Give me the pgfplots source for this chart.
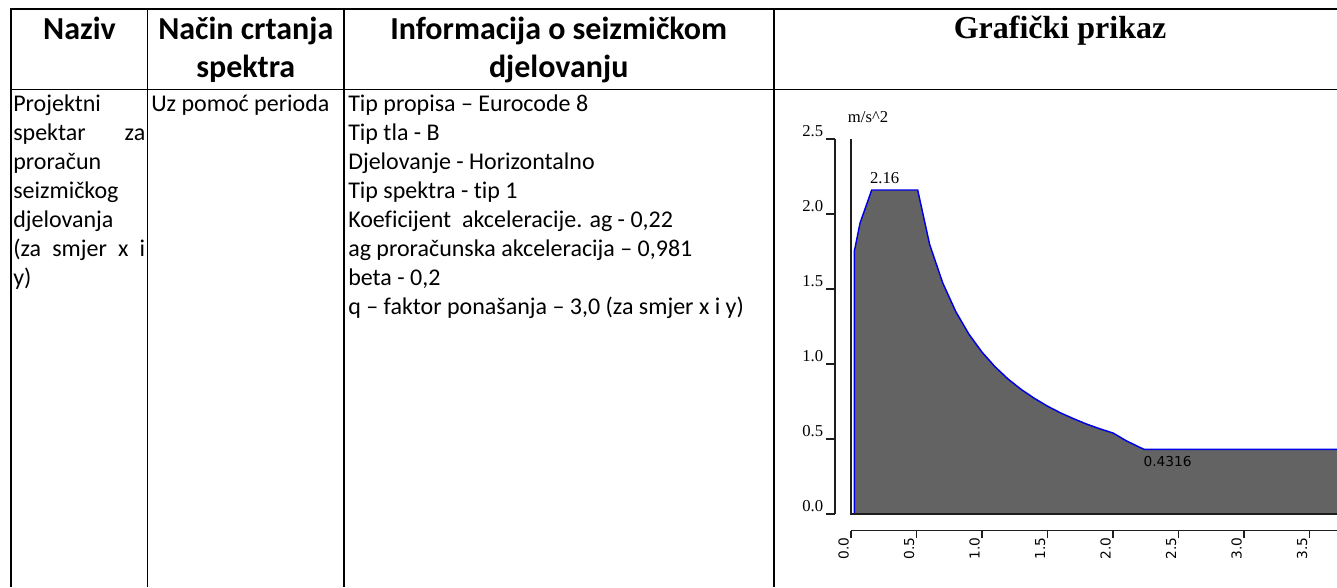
\documentclass[border=0pt]{standalone}
\usepackage{pgfplots}
\pgfplotsset{compat=1.18}
\usepackage{pgfplotstable}
\usepackage{fontspec}
\setmainfont{Carlito}[Ligatures={NoCommon}]
\newfontfamily\timesf{Liberation Serif}
\newfontfamily\axsans{DejaVu Sans}
\definecolor{fillgray}{RGB}{99,99,99}
\definecolor{lineblue}{RGB}{0,0,230}
\definecolor{axcol}{RGB}{30,30,30}

\pgfplotstableread{
T Sd
0.025 0
0.025 1.75
0.069 1.94
0.158 2.16
0.509 2.16
0.6 1.798
0.7 1.541
0.8 1.349
0.9 1.199
1.0 1.079
1.1 0.981
1.2 0.899
1.3 0.830
1.4 0.771
1.5 0.719
1.6 0.674
1.7 0.635
1.8 0.599
1.9 0.568
2.0 0.540
2.1 0.489
2.2 0.446
2.236 0.4316
3.8 0.4316
}\spectrum

\begin{document}
\begin{tikzpicture}[x=0.75pt,y=-0.75pt]
\useasboundingbox (0,0) rectangle (1337,587);
% ---------- table frame ----------
\draw[line width=1.5pt] (10,9) -- (1337,9);
\draw[line width=1pt] (10,89.3) -- (1337,89.3);
\foreach \cx in {11,147.5,344.3,774}{\draw[line width=1.4pt] (\cx,8) -- (\cx,587);}
% ---------- headers ----------
\begin{scope}[every node/.style={anchor=base,inner sep=0pt,font=\fontsize{24pt}{28pt}\selectfont\bfseries}]
\node at (79.5,39.3) {Naziv};
\node at (245.8,39.3) {Način crtanja};
\node at (245.8,77.5) {spektra};
\node at (558.7,39.3) {Informacija o seizmičkom};
\node at (558.7,77.5) {djelovanju};
\end{scope}
\node[anchor=base,inner sep=0pt,font=\timesf\fontsize{24pt}{28pt}\selectfont\bfseries] at (1060,38.3) {Grafički prikaz};
% ---------- body text ----------
\begin{scope}[every node/.style={anchor=base west,inner sep=0pt,font=\fontsize{18pt}{21.75pt}\selectfont}]
\node at (13,111.5) {Projektni};
\node at (13,140.5) {\makebox[99pt][s]{spektar za}};
\node at (13,169.5) {proračun};
\node at (13,198.5) {seizmičkog};
\node at (13,227.5) {djelovanja};
\node at (13,256.5) {\makebox[99pt][s]{(za smjer x i}};
\node at (13,285.5) {y)};
\node at (151,111.5) {Uz pomoć perioda};
\node at (348,111.5) {Tip propisa – Eurocode 8};
\node at (348,140.5) {Tip tla - B};
\node at (348,169.5) {Djelovanje - Horizontalno};
\node at (348,198.5) {Tip spektra - tip 1};
\node at (348,227.5) {Koeficijent\ \ akceleracije. ag - 0,22};
\node at (348,256.5) {ag proračunska akceleracija – 0,981};
\node at (348,285.5) {beta - 0,2};
\node at (348,314.5) {q – faktor ponašanja – 3,0 (za smjer x i y)};
\end{scope}
% ---------- chart ----------
\begin{axis}[at={(638.25pt,-385.5pt)},anchor=south west,scale only axis,
  width=364.5pt,height=281.25pt,xmin=0,xmax=3.7099,ymin=0,ymax=2.5,
  hide axis,clip=false]
\addplot[draw=none,fill=fillgray] table[x=T,y=Sd] {\spectrum} \closedcycle;
\addplot[lineblue,line width=1.1pt] table[x=T,y=Sd] {\spectrum};
\end{axis}
% axes decorations
\draw[axcol,line width=0.9pt] (835,139) -- (835,514);
\foreach \yv/\lab in {514/0.0,439/0.5,364/1.0,289/1.5,214/2.0,139/2.5}{
  \draw[axcol,line width=0.9pt] (826,\yv) -- (835,\yv);
  \node[anchor=base east,inner sep=0pt,font=\timesf\fontsize{12.5pt}{14pt}\selectfont] at (823.5,\yv-2.3) {\lab};
}
\draw[axcol,line width=0.9pt] (851,139) -- (851,514) -- (1337,514);
\draw[axcol,line width=0.9pt] (851,530.7) -- (1337,530.7);
\foreach \xv/\lab in {851/0.0,916.5/0.5,982/1.0,1047.5/1.5,1113/2.0,1178.5/2.5,1244/3.0,1309.5/3.5}{
  \draw[axcol,line width=0.9pt] (\xv,530.7) -- (\xv,538);
  \node[rotate=90,anchor=base east,inner sep=0pt,font=\axsans\fontsize{10.3pt}{12pt}\selectfont] at (\xv-2.5,537) {\lab};
}
\node[anchor=base west,inner sep=0pt,font=\timesf\fontsize{12.5pt}{14pt}\selectfont] at (847.7,122) {m/s\textasciicircum 2};
\node[anchor=base,inner sep=0pt,font=\timesf\fontsize{12.5pt}{14pt}\selectfont] at (884.7,183.3) {2.16};
\node[anchor=base west,inner sep=0pt,font=\axsans\fontsize{10.3pt}{12pt}\selectfont] at (1143.3,466.5) {0.4316};
\end{tikzpicture}
\end{document}
